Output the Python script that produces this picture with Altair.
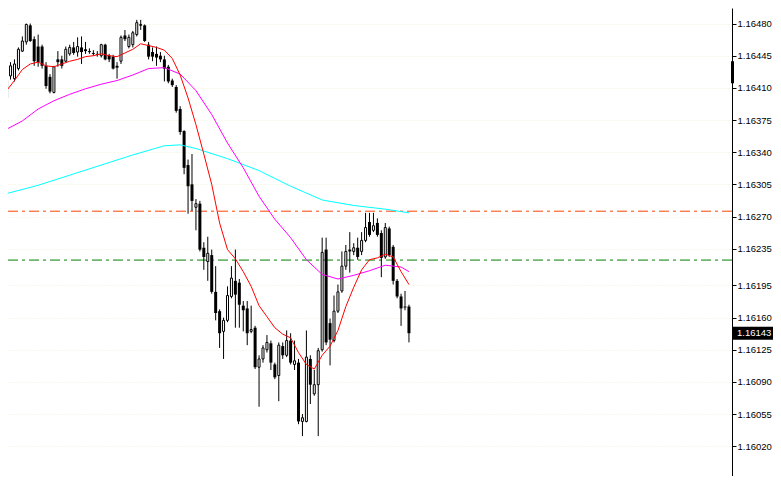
import altair as alt
import pandas as pd

# ---- candle data (103 bars) ----
opens = [1.16399,1.16423,1.16420,1.16431,1.16450,1.16460,1.16478,1.16463,1.16455,1.16455,
         1.16434,1.16422,1.16405,1.16441,1.16441,1.16439,1.16447,1.16454,1.16449,1.16454,
         1.16452,1.16450,1.16448,1.16447,1.16445,1.16457,1.16445,1.16444,1.16434,1.16439,
         1.16467,1.16455,1.16457,1.16468,1.16478,1.16478,1.16457,1.16449,1.16447,1.16445,
         1.16441,1.16433,1.16418,1.16411,1.16387,1.16363,1.16326,1.16305,1.16280,1.16284,
         1.16236,1.16221,1.16228,1.16188,1.16167,1.16145,1.16157,1.16183,1.16200,1.16198,
         1.16173,1.16170,1.16145,1.16149,1.16106,1.16115,1.16125,1.16132,1.16109,1.16097,
         1.16129,1.16119,1.16135,1.16109,1.16111,1.16047,1.16047,1.16115,1.16077,1.16087,
         1.16125,1.16234,1.16154,1.16135,1.16167,1.16189,1.16216,1.16234,1.16232,1.16236,
         1.16232,1.16244,1.16264,1.16255,1.16263,1.16252,1.16226,1.16257,1.16237,1.16200,
         1.16183,1.16172,1.16172]
highs = [1.16423,1.16438,1.16441,1.16454,1.16466,1.16480,1.16480,1.16466,1.16468,1.16457,
         1.16438,1.16425,1.16434,1.16450,1.16445,1.16455,1.16457,1.16460,1.16465,1.16466,
         1.16460,1.16453,1.16451,1.16450,1.16458,1.16458,1.16447,1.16446,1.16438,1.16467,
         1.16473,1.16468,1.16472,1.16484,1.16484,1.16479,1.16460,1.16454,1.16455,1.16449,
         1.16445,1.16435,1.16420,1.16413,1.16390,1.16364,1.16332,1.16338,1.16289,1.16287,
         1.16242,1.16248,1.16234,1.16216,1.16169,1.16160,1.16194,1.16216,1.16234,1.16202,
         1.16178,1.16178,1.16173,1.16151,1.16119,1.16130,1.16141,1.16135,1.16111,1.16133,
         1.16133,1.16146,1.16143,1.16135,1.16115,1.16055,1.16146,1.16119,1.16103,1.16127,
         1.16247,1.16247,1.16159,1.16184,1.16196,1.16232,1.16239,1.16253,1.16241,1.16247,
         1.16253,1.16274,1.16274,1.16274,1.16268,1.16255,1.16263,1.16259,1.16239,1.16202,
         1.16186,1.16189,1.16174]
lows = [1.16397,1.16419,1.16417,1.16429,1.16449,1.16457,1.16460,1.16434,1.16433,1.16431,
        1.16409,1.16404,1.16404,1.16433,1.16431,1.16438,1.16445,1.16446,1.16444,1.16436,
        1.16447,1.16447,1.16445,1.16444,1.16443,1.16440,1.16438,1.16430,1.16420,1.16436,
        1.16461,1.16453,1.16454,1.16466,1.16473,1.16460,1.16441,1.16439,1.16434,1.16438,
        1.16417,1.16415,1.16411,1.16383,1.16359,1.16316,1.16273,1.16276,1.16255,1.16232,
        1.16212,1.16200,1.16186,1.16157,1.16127,1.16115,1.16155,1.16181,1.16149,1.16149,
        1.16145,1.16130,1.16143,1.16104,1.16063,1.16111,1.16122,1.16103,1.16093,1.16069,
        1.16115,1.16117,1.16109,1.16103,1.16044,1.16031,1.16046,1.16066,1.16075,1.16031,
        1.16123,1.16130,1.16108,1.16133,1.16165,1.16187,1.16212,1.16209,1.16228,1.16223,
        1.16228,1.16242,1.16248,1.16253,1.16248,1.16204,1.16224,1.16226,1.16196,1.16181,
        1.16151,1.16168,1.16133]
closes = [1.16418,1.16434,1.16436,1.16452,1.16461,1.16479,1.16461,1.16439,1.16438,1.16434,
          1.16412,1.16406,1.16433,1.16438,1.16434,1.16452,1.16454,1.16448,1.16455,1.16449,
          1.16450,1.16449,1.16447,1.16446,1.16457,1.16441,1.16441,1.16431,1.16432,1.16465,
          1.16463,1.16465,1.16470,1.16481,1.16479,1.16461,1.16444,1.16444,1.16443,1.16441,
          1.16431,1.16417,1.16413,1.16385,1.16362,1.16323,1.16303,1.16287,1.16284,1.16234,
          1.16226,1.16230,1.16188,1.16165,1.16143,1.16157,1.16184,1.16203,1.16185,1.16174,
          1.16168,1.16143,1.16147,1.16106,1.16115,1.16127,1.16133,1.16111,1.16095,1.16130,
          1.16119,1.16135,1.16111,1.16113,1.16047,1.16051,1.16117,1.16087,1.16087,1.16124,
          1.16231,1.16133,1.16136,1.16167,1.16188,1.16216,1.16232,1.16232,1.16236,1.16226,
          1.16244,1.16258,1.16250,1.16260,1.16250,1.16225,1.16258,1.16228,1.16200,1.16183,
          1.16170,1.16171,1.16143]

# ---- moving averages, read at bar indices ----
red_idx = list(range(0, 103, 2))
red_ma = [1.16407,1.16418,1.16430,1.16436,1.16438,1.16434,1.16433,1.16436,1.16439,1.16441,
          1.16444,1.16445,1.16447,1.16445,1.16444,1.16448,1.16452,1.16458,1.16456,1.16454,
          1.16451,1.16442,1.16424,1.16399,1.16370,1.16338,1.16305,1.16263,1.16234,1.16224,
          1.16210,1.16194,1.16173,1.16161,1.16149,1.16142,1.16138,1.16122,1.16109,1.16104,
          1.16119,1.16129,1.16146,1.16172,1.16193,1.16212,1.16223,1.16225,1.16229,1.16226,
          1.16210,1.16196]
mag_idx = list(range(0, 101, 4)) + [102]
mag_ma = [1.16365,1.16374,1.16387,1.16396,1.16403,1.16409,1.16414,1.16418,1.16424,1.16431,
          1.16432,1.16425,1.16407,1.16381,1.16350,1.16323,1.16292,1.16267,1.16247,1.16223,
          1.16207,1.16202,1.16206,1.16211,1.16217,1.16215,1.16210]
cyan_idx = [0, 8, 16, 24, 32, 40, 44, 48, 56, 64, 72, 80, 88, 96, 102]
cyan_ma = [1.16295,1.16304,1.16315,1.16326,1.16337,1.16347,1.16348,1.16344,1.16333,1.16320,
           1.16303,1.16288,1.16282,1.16278,1.16274]

# ---- horizontal levels ----
orange_levels = [1.162758, 1.159860]
green_levels = [1.162226]

tick_values = [1.16480, 1.16445, 1.16410, 1.16375, 1.16340, 1.16305, 1.16270, 1.16235,
               1.16195, 1.16160, 1.16125, 1.16090, 1.16055, 1.16020, 1.15985]
marker_range = [1.16439, 1.16415]

cdf = pd.DataFrame({"i": list(range(len(opens))), "o": opens, "h": highs, "l": lows, "c": closes})

W, H = 724, 468
XS = alt.Scale(domain=[1.625, 1.625 + W / 4], nice=False, zero=False)
YS = alt.Scale(domain=[1.1599306, 1.1649148], nice=False, zero=False)
FONT = "Liberation Sans"

yaxis = alt.Axis(orient="right", values=tick_values, format=".5f", title=None,
                 domainColor="black", domainWidth=1, tickColor="black", tickSize=4,
                 labelFont=FONT, labelFontSize=9.5, labelColor="black", labelPadding=1,
                 labelOverlap=False, labelFlush=False, grid=True, gridColor="#f1eed6",
                 gridDash=[1, 2], gridWidth=1)

def X():
    return alt.X("i:Q", scale=XS, axis=None)

def Y(field):
    return alt.Y(field, scale=YS, axis=yaxis)

base = alt.Chart(cdf)
wicks = base.mark_rule(color="black", strokeWidth=1, clip=True).encode(
    x=X(), y=Y("l:Q"), y2="h:Q")
bear = base.transform_filter("datum.c <= datum.o").mark_bar(
    size=3, color="black", clip=True).encode(x=X(), y=Y("o:Q"), y2="c:Q")
bull = base.transform_filter("datum.c > datum.o").mark_bar(
    size=2, fill="white", stroke="black", strokeWidth=1, clip=True).encode(
    x=X(), y=Y("o:Q"), y2="c:Q")

lv_orange = alt.Chart(pd.DataFrame({"p": orange_levels})).mark_rule(
    color="#ff4500", strokeWidth=1, strokeDash=[10, 4, 3, 4], clip=True).encode(y=Y("p:Q"))
lv_green = alt.Chart(pd.DataFrame({"p": green_levels})).mark_rule(
    color="#008000", strokeWidth=1, strokeDash=[10, 4, 3, 4], clip=True).encode(y=Y("p:Q"))

def ma_line(idx, vals, color):
    return alt.Chart(pd.DataFrame({"i": idx, "v": vals})).mark_line(
        color=color, strokeWidth=1, clip=True).encode(x=X(), y=Y("v:Q"))

cyan = ma_line(cyan_idx, cyan_ma, "#00ffff")
mag = ma_line(mag_idx, mag_ma, "#ff00ff")
red = ma_line(red_idx, red_ma, "#ff0000")

last = pd.DataFrame({"p": [closes[-1]], "t": [f"{closes[-1]:.5f}"]})
box = alt.Chart(last).mark_bar(orient="horizontal", size=13, color="black", clip=False).encode(
    y=Y("p:Q"), x=alt.value(W + 1), x2=alt.value(W + 41))
boxtext = alt.Chart(last).mark_text(align="left", baseline="middle", color="white",
                                    font=FONT, fontSize=9.5, clip=False).encode(
    y=Y("p:Q"), x=alt.value(W + 5), text="t:N")

marker = alt.Chart(pd.DataFrame({"a": [marker_range[0]], "b": [marker_range[1]]})).mark_rect(
    color="black", clip=False).encode(
    y=Y("a:Q"), y2="b:Q", x=alt.value(W - 1), x2=alt.value(W + 2))

chart = alt.layer(lv_orange, lv_green, wicks, bear, bull, cyan, mag, red,
                  marker, box, boxtext).properties(
    width=W, height=H,
    autosize=alt.AutoSizeParams(type="none"),
    padding={"left": 0, "top": 0, "right": 41, "bottom": 0},
    background="white",
).configure_view(stroke=None)

chart.save("out.html", embed_options={"renderer": "svg", "actions": False})
